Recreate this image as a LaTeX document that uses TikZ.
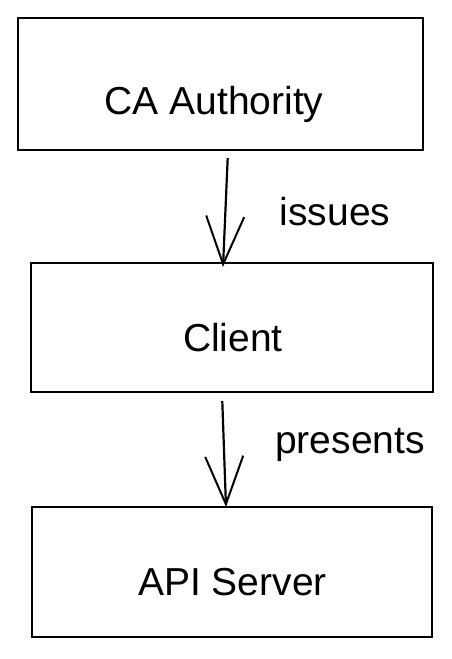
\documentclass[tikz,border=0pt]{standalone}
\usepackage{fontspec}
\setmainfont{Liberation Sans}
\usetikzlibrary{arrows.meta}

\begin{document}
\begin{tikzpicture}[x=1pt, y=-1pt,
    box/.style={rectangle, draw=black, line width=2.1pt, minimum width=#1, minimum height=130pt, inner sep=0pt},
    lbl/.style={font=\fontsize{39}{47}\selectfont, anchor=base, inner sep=0pt},
    arrow/.style={-{Straight Barb[length=48pt, width=38pt, line width=2pt]}, line width=2.2pt}
]
\useasboundingbox (0,0) rectangle (452,659);

% Three boxes
\node[box=405pt, minimum height=132pt] (ca) at (220.5,84) {};
\node[box=402pt, minimum height=129pt] (client) at (232,327.5) {};
\node[box=400pt] (api) at (232,572) {};

% Box texts
\node[lbl] (ca-text) at (214,114) {CA Authority};
\node[lbl] (client-text) at (233,351) {Client};
\node[lbl] (api-text) at (232.5,595) {API Server};

% Connections
\draw[arrow, shorten <=7pt] ([xshift=7.5pt]ca.south) -- ([xshift=-9pt, yshift=-5pt]client.north);
\draw[arrow, shorten <=8pt] ([xshift=-10pt]client.south) -- ([xshift=-6pt, yshift=-1pt]api.north);

% Labels
\node[lbl] (issues) at (335,225) {issues};
\node[lbl] (presents) at (350,453) {presents};
\end{tikzpicture}
\end{document}
